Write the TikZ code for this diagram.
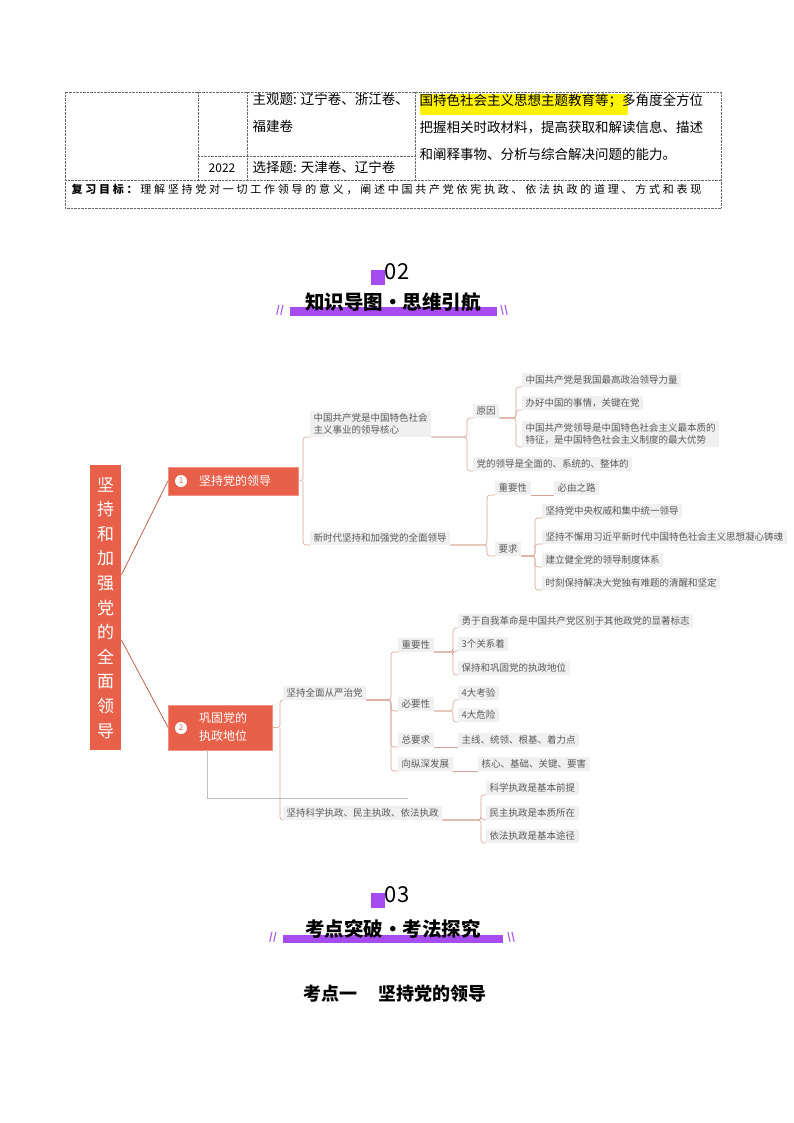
\documentclass[tikz,border=0pt]{standalone}
\usepackage{fontspec}
\setmainfont{Noto Sans CJK SC}
\usetikzlibrary{positioning,calc}
\definecolor{mmorange}{HTML}{E8604A}
\definecolor{mmline}{HTML}{D4A393}
\definecolor{mmpurple}{HTML}{A64BF0}
\definecolor{mmtext}{HTML}{5A5A5A}

\begin{document}
\begin{tikzpicture}[x=1pt,y=-1pt,
  box/.style={fill=black!6, anchor=south west, inner xsep=3.5pt, inner ysep=2.5pt,
    font=\fontsize{9.5}{12}\selectfont, text=mmtext, align=left},
  topic/.style={fill=mmorange, draw=mmorange!70, text=white, anchor=south west,
    font=\fontsize{12}{15}\selectfont, align=left, inner xsep=4pt},
  link/.style={draw=mmline, line width=0.6pt, rounded corners=3pt},
  cell/.style={font=\fontsize{13.5}{27}\selectfont, anchor=north west, align=left},
  heading/.style={font=\fontsize{19.5}{22}\selectfont\bfseries},
]
\useasboundingbox (0,0) rectangle (794,1123);

% table at the top
\draw[densely dotted, black!60] (65,92) rectangle (721,208);
\draw[densely dotted, black!60] (65,180) -- (721,180);
\foreach \cx in {198,247,415}
  \draw[densely dotted, black!60] (\cx,92) -- (\cx,180);
\draw[densely dotted, black!60] (198,156) -- (415,156);
\node[cell] (t1) at (249,90) {主观题: 辽宁卷、浙江卷、\\福建卷};
\node[font=\fontsize{12}{13}\selectfont\rmfamily] (t2) at (222,168) {2022};
\node[cell, anchor=west] (t3) at (249,167) {选择题: 天津卷、辽宁卷};
\fill[yellow] (420,94) rectangle (628,115);
\node[cell] (t4) at (416,90) {国特色社会主义思想主题教育等；多角度全方位\\把握相关时政材料，提高获取和解读信息、描述\\和阐释事物、分析与综合解决问题的能力。};
\node[font=\fontsize{11}{12}\selectfont\addfontfeatures{LetterSpace=25}, anchor=west] (t5) at (68,189)
  {\textbf{复习目标：}理解坚持党对一切工作领导的意义，阐述中国共产党依宪执政、依法执政的道理、方式和表现};

% section 02
\fill[mmpurple] (371,270) rectangle (385,285);
\node[font=\fontsize{22}{24}\selectfont] (s2n) at (397,272) {02};
\fill[mmpurple] (290,307) rectangle (497,316);
\node[heading] (s2t) at (393,302) {知识导图•思维引航};
\node[text=mmpurple, font=\itshape\bfseries] (s2l) at (280,310) {//};
\node[text=mmpurple, font=\itshape\bfseries] (s2r) at (504,310) {\textbackslash\textbackslash};

% mind map: root and main topics
\node[fill=mmorange, text=white, minimum width=31, minimum height=285, anchor=north west,
  font=\fontsize{17}{24.6}\selectfont, align=center, inner sep=0pt] (root) at (90,465)
  {坚\\持\\和\\加\\强\\党\\的\\全\\面\\领\\导};
\node[topic, minimum width=130, minimum height=28, text width=100] (lead) at (168,495) {\hspace{16pt}坚持党的领导};
\node[topic, minimum width=104, minimum height=45, text width=74, font=\fontsize{12}{18}\selectfont] (rule) at (168,750) {\hspace{16pt}巩固党的\\\hspace{16pt}执政地位};
\node[circle, fill=white, text=mmorange, inner sep=0pt, minimum size=12,
  font=\fontsize{8}{8}\selectfont] (c1) at (181,481) {1};
\node[circle, fill=white, text=mmorange, inner sep=0pt, minimum size=12,
  font=\fontsize{8}{8}\selectfont] (c2) at (181,728) {2};
\draw[mmorange!80!black, line width=0.7pt] (root.east |- 0,575) -- (lead.west);
\draw[mmorange!80!black, line width=0.7pt] (root.east |- 0,640) -- (rule.west);

% branch 1
\node[box] (core) at (310,437) {中国共产党是中国特色社会\\主义事业的领导核心};
\node[box] (newera) at (310,545) {新时代坚持和加强党的全面领导};
\node[box] (why) at (473,418) {原因};
\node[box] (whole) at (473,471) {党的领导是全面的、系统的、整体的};
\node[box] (w1) at (522,387) {中国共产党是我国最高政治领导力量};
\node[box] (w2) at (522,410) {办好中国的事情，关键在党};
\node[box] (w3) at (522,447) {中国共产党领导是中国特色社会主义最本质的\\特征，是中国特色社会主义制度的最大优势};
\node[box] (imp1) at (495,495) {重要性};
\node[box] (req) at (495,556) {要求};
\node[box] (path) at (554,495) {必由之路};
\node[box] (r1) at (542,518) {坚持党中央权威和集中统一领导};
\node[box] (r2) at (542,544) {坚持不懈用习近平新时代中国特色社会主义思想凝心铸魂};
\node[box] (r3) at (542,567) {建立健全党的领导制度体系};
\node[box] (r4) at (542,590) {时刻保持解决大党独有难题的清醒和坚定};

\draw[link] (lead.east) -- (303,481) |- (core.south west);
\draw[link] (303,481) |- (newera.south west);
\foreach \c in {why,whole} \draw[link] (core.south east) -- (467,437) |- (\c.south west);
\foreach \c in {w1,w2,w3} \draw[link] (why.south east) -- (516,418) |- (\c.south west);
\foreach \c in {imp1,req} \draw[link] (newera.south east) -- (487,545) |- (\c.south west);
\draw[link] (imp1.south east) -- (path.south west);
\foreach \c in {r1,r2,r3,r4} \draw[link] (req.south east) -- (535,556) |- (\c.south west);

% branch 2
\node[box] (strict) at (283,700) {坚持全面从严治党};
\node[box] (sci) at (283,820) {坚持科学执政、民主执政、依法执政};
\node[box] (imp2) at (398,652) {重要性};
\node[box] (nec) at (398,711) {必要性};
\node[box] (gen) at (398,747) {总要求};
\node[box] (deep) at (398,771) {向纵深发展};
\node[box] (i1) at (458,628) {勇于自我革命是中国共产党区别于其他政党的显著标志};
\node[box] (i2) at (458,651) {3个关系着};
\node[box] (i3) at (458,675) {保持和巩固党的执政地位};
\node[box] (n1) at (458,700) {4大考验};
\node[box] (n2) at (458,722) {4大危险};
\node[box] (g1) at (458,747) {主线、统领、根基、着力点};
\node[box] (d1) at (478,771) {核心、基础、关键、要害};
\node[box] (s1) at (486,795) {科学执政是基本前提};
\node[box] (s2) at (486,820) {民主执政是本质所在};
\node[box] (s3) at (486,843) {依法执政是基本途径};

\draw[black!25, line width=0.6pt] (207,750) |- (408,798);
\draw[link] (rule.east) -- (280,728) |- (strict.south west);
\draw[link] (280,728) |- (sci.south west);
\foreach \c in {imp2,nec,gen,deep} \draw[link] (strict.south east) -- (391,700) |- (\c.south west);
\foreach \c in {i1,i2,i3} \draw[link] (imp2.south east) -- (453,652) |- (\c.south west);
\foreach \c in {n1,n2} \draw[link] (nec.south east) -- (453,711) |- (\c.south west);
\draw[link] (gen.south east) -- (g1.south west);
\draw[link] (deep.south east) -- (d1.south west);
\foreach \c in {s1,s2,s3} \draw[link] (sci.south east) -- (481,820) |- (\c.south west);

% section 03
\fill[mmpurple] (371,893) rectangle (385,908);
\node[font=\fontsize{22}{24}\selectfont] (s3n) at (397,895) {03};
\fill[mmpurple] (283,935) rectangle (503,943);
\node[heading] (s3t) at (393,929) {考点突破•考法探究};
\node[text=mmpurple, font=\itshape\bfseries] (s3l) at (273,937) {//};
\node[text=mmpurple, font=\itshape\bfseries] (s3r) at (511,937) {\textbackslash\textbackslash};
\node[heading, font=\fontsize{18}{20}\selectfont\bfseries] (k1) at (395,994) {考点一\hspace{1.2em}坚持党的领导};
\end{tikzpicture}
\end{document}
